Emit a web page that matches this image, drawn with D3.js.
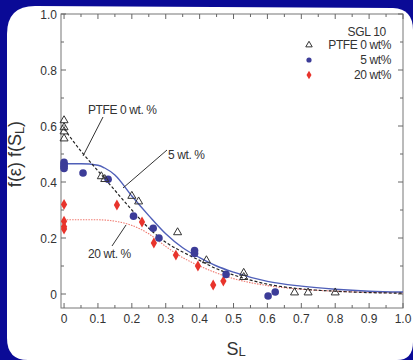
<!DOCTYPE html>
<html>
<head>
<meta charset="utf-8">
<script src="https://cdn.jsdelivr.net/npm/d3@7"></script>
<style>
  html, body { margin: 0; padding: 0; background: #0a0a96; }
  svg { display: block; }
  text { font-family: "Liberation Sans", Arial, sans-serif; fill: #333; }
</style>
</head>
<body>
<div id="chart"></div>
<script>
// measured points, [S_L, f(eps) f(S_L)]
let ptfe0 = [
  [0, 0.62], [0, 0.595], [0, 0.58], [0, 0.555],
  [0.11, 0.42], [0.12, 0.41], [0.2, 0.35], [0.22, 0.33],
  [0.335, 0.22], [0.42, 0.12], [0.53, 0.075], [0.53, 0.06],
  [0.68, 0.005], [0.72, 0.005], [0.8, 0.005]
]
let wt5 = [
  [0, 0.47], [0, 0.462], [0, 0.455], [0, 0.448],
  [0.056, 0.432], [0.13, 0.41], [0.205, 0.278], [0.263, 0.235],
  [0.28, 0.2], [0.385, 0.155], [0.385, 0.145], [0.478, 0.07],
  [0.602, -0.007], [0.623, 0.007]
]
let wt20 = [
  [0, 0.32], [0, 0.26], [0, 0.24], [0, 0.232],
  [0.156, 0.318], [0.23, 0.257], [0.265, 0.182], [0.33, 0.139],
  [0.395, 0.1], [0.44, 0.032], [0.47, 0.046]
]

// fitted curves
let fitPtfe0 = [
  [0, 0.59], [0.05, 0.51], [0.1, 0.44], [0.15, 0.37], [0.2, 0.3],
  [0.25, 0.235], [0.3, 0.185], [0.35, 0.15], [0.4, 0.12], [0.45, 0.09],
  [0.5, 0.068], [0.6, 0.035], [0.7, 0.018], [0.8, 0.01], [0.9, 0.005], [1.0, 0.003]
]
let fit5 = [
  [0, 0.465], [0.05, 0.465], [0.1, 0.46], [0.12, 0.45], [0.15, 0.425],
  [0.2, 0.35], [0.25, 0.28], [0.3, 0.215], [0.35, 0.165], [0.4, 0.13],
  [0.45, 0.1], [0.5, 0.078], [0.6, 0.045], [0.7, 0.028], [0.8, 0.017],
  [0.9, 0.01], [1.0, 0.007]
]
let fit20 = [
  [0, 0.265], [0.1, 0.265], [0.15, 0.26], [0.2, 0.245], [0.25, 0.215],
  [0.3, 0.17], [0.35, 0.13], [0.4, 0.1], [0.45, 0.075], [0.5, 0.055],
  [0.6, 0.03], [0.7, 0.017], [0.8, 0.01], [0.9, 0.006], [1.0, 0.004]
]

let xTicks = [0, 0.1, 0.2, 0.3, 0.4, 0.5, 0.6, 0.7, 0.8, 0.9, 1.0]
let xTickLabels = ['0', '0.1', '0.2', '0.3', '0.4', '0.5', '0.6', '0.7', '0.8', '0.9', '1.0']
let yTicks = [0, 0.2, 0.4, 0.6, 0.8, 1.0]
let yTickLabels = ['0', '0.2', '0.4', '0.6', '0.8', '1.0']
let legendLabels = ['PTFE 0 wt%', '5 wt%', '20 wt%']

let W = 413, H = 360
let colors = { tri: '#333', blue: '#3c3c98', red: '#e8342c', blueLine: '#4f5fb8', redLine: '#f07a70' }

let svg = d3.select('#chart').append('svg')
  .attr('width', W)
  .attr('height', H)

// white panel with rounded corners on the blue background
let panel = d3.path()
panel.moveTo(7, 34)
panel.quadraticCurveTo(7, 6, 35, 6)
panel.lineTo(393, 8)
panel.quadraticCurveTo(413, 9, 413, 30)
panel.lineTo(413, 342)
panel.quadraticCurveTo(413, 360, 397, 360)
panel.lineTo(28, 360)
panel.quadraticCurveTo(7, 360, 7, 338)
panel.closePath()
svg.append('path').attr('d', panel.toString()).style('fill', '#fff')

let x = d3.scaleLinear().domain([-0.009, 1.0]).range([61, 403])
let y = d3.scaleLinear().domain([-0.05, 1.0]).range([308, 14])

let g = svg.append('g').attr('class', 'plot')

// frame
g.append('rect')
  .attr('x', x.range()[0]).attr('y', y.range()[1])
  .attr('width', x.range()[1] - x.range()[0])
  .attr('height', y.range()[0] - y.range()[1])
  .style('fill', 'none').style('stroke', '#777').style('stroke-width', 1)

// inward ticks on all four sides
let xMinor = d3.range(0, 1.0001, 0.05)
let yAll = d3.range(0, 1.0001, 0.1)

g.selectAll('.xtick-b').data(xMinor).enter().append('line')
  .attr('x1', d => x(d)).attr('x2', d => x(d))
  .attr('y1', y.range()[0]).attr('y2', (d, i) => y.range()[0] - (i % 2 === 0 ? 5 : 3))
  .style('stroke', '#666')
g.selectAll('.xtick-t').data(xMinor).enter().append('line')
  .attr('x1', d => x(d)).attr('x2', d => x(d))
  .attr('y1', y.range()[1]).attr('y2', (d, i) => y.range()[1] + (i % 2 === 0 ? 5 : 3))
  .style('stroke', '#666')
g.selectAll('.ytick-l').data(yAll).enter().append('line')
  .attr('y1', d => y(d)).attr('y2', d => y(d))
  .attr('x1', x.range()[0]).attr('x2', (d, i) => x.range()[0] + (i % 2 === 0 ? 5 : 3))
  .style('stroke', '#666')
g.selectAll('.ytick-r').data(yAll).enter().append('line')
  .attr('y1', d => y(d)).attr('y2', d => y(d))
  .attr('x1', x.range()[1]).attr('x2', (d, i) => x.range()[1] - (i % 2 === 0 ? 5 : 3))
  .style('stroke', '#666')

g.selectAll('.xlabel').data(xTicks).enter().append('text')
  .attr('x', d => x(d)).attr('y', 323)
  .attr('text-anchor', 'middle')
  .style('font-size', '12px')
  .text((d, i) => xTickLabels[i])
g.selectAll('.ylabel').data(yTicks).enter().append('text')
  .attr('x', 57).attr('y', d => y(d) + 4.5)
  .attr('text-anchor', 'end')
  .style('font-size', '12px')
  .text((d, i) => yTickLabels[i])

// axis titles
let yt = svg.append('text')
  .attr('transform', 'translate(21,154) rotate(-90)')
  .attr('text-anchor', 'middle')
  .style('font-size', '18px')
yt.append('tspan').text('f(ε) f(S')
yt.append('tspan').attr('dy', 3).style('font-size', '13px').text('L')
yt.append('tspan').attr('dy', -3).text(')')

let xt = svg.append('text')
  .attr('x', 236).attr('y', 355)
  .attr('text-anchor', 'middle')
  .style('font-size', '18px')
xt.append('tspan').text('S')
xt.append('tspan').attr('dy', 1).style('font-size', '13px').text('L')

// fitted curves
let line = d3.line()
  .x(d => x(d[0]))
  .y(d => y(d[1]))
  .curve(d3.curveMonotoneX)

g.append('path').attr('d', line(fit20))
  .style('fill', 'none').style('stroke', colors.redLine)
  .style('stroke-width', 1.1).style('stroke-dasharray', '1.5,1.2')
g.append('path').attr('d', line(fit5))
  .style('fill', 'none').style('stroke', colors.blueLine).style('stroke-width', 1.4)
g.append('path').attr('d', line(fitPtfe0))
  .style('fill', 'none').style('stroke', '#222')
  .style('stroke-width', 1.2).style('stroke-dasharray', '3,2')

// markers
let tri = d3.symbol().type(d3.symbolTriangle).size(28)
let dia = d3.symbol().type(d3.symbolDiamond).size(34)

g.selectAll('.p20').data(wt20).enter().append('path')
  .attr('d', dia)
  .attr('transform', d => `translate(${x(d[0])},${y(d[1])})`)
  .style('fill', colors.red)
g.selectAll('.p5').data(wt5).enter().append('circle')
  .attr('cx', d => x(d[0])).attr('cy', d => y(d[1]))
  .attr('r', 3.8)
  .style('fill', colors.blue)
g.selectAll('.p0').data(ptfe0).enter().append('path')
  .attr('d', tri)
  .attr('transform', d => `translate(${x(d[0])},${y(d[1])})`)
  .style('fill', 'none').style('stroke', colors.tri).style('stroke-width', 1)

// annotations with leader lines
let notes = [
  { text: 'PTFE 0 wt. %', tx: 88, ty: 114, l: [[103, 117], [83, 156]] },
  { text: '5 wt. %', tx: 168, ty: 159, l: [[167, 150], [123, 188]] },
  { text: '20 wt. %', tx: 88, ty: 258, l: [[112, 246], [126, 225]] }
]
notes.forEach(n => {
  svg.append('line')
    .attr('x1', n.l[0][0]).attr('y1', n.l[0][1])
    .attr('x2', n.l[1][0]).attr('y2', n.l[1][1])
    .style('stroke', '#333').style('stroke-width', 1)
  svg.append('text')
    .attr('x', n.tx).attr('y', n.ty)
    .style('font-size', '12px').style('letter-spacing', '-0.4px')
    .text(n.text)
})

// legend
svg.append('text')
  .attr('x', 386).attr('y', 36)
  .attr('text-anchor', 'end')
  .style('font-size', '12px').style('letter-spacing', '-0.3px')
  .text('SGL 10')

let leg = svg.append('g').attr('class', 'legend')
let legItems = leg.selectAll('g').data(legendLabels).enter().append('g')
  .attr('transform', (d, i) => `translate(0,${49 + i * 15})`)
legItems.append('text')
  .attr('x', 391).attr('y', 0)
  .attr('text-anchor', 'end')
  .style('font-size', '12px').style('letter-spacing', '-0.4px')
  .text(d => d)
legItems.each(function(d, i) {
  let s = d3.select(this)
  if (i === 0) {
    s.append('path').attr('d', d3.symbol().type(d3.symbolTriangle).size(18))
      .attr('transform', 'translate(309,-4)')
      .style('fill', 'none').style('stroke', colors.tri)
  } else if (i === 1) {
    s.append('circle').attr('cx', 309).attr('cy', -4).attr('r', 2.6)
      .style('fill', colors.blue)
  } else {
    s.append('path').attr('d', d3.symbol().type(d3.symbolDiamond).size(22))
      .attr('transform', 'translate(309,-4)')
      .style('fill', colors.red)
  }
})
</script>
</body>
</html>
